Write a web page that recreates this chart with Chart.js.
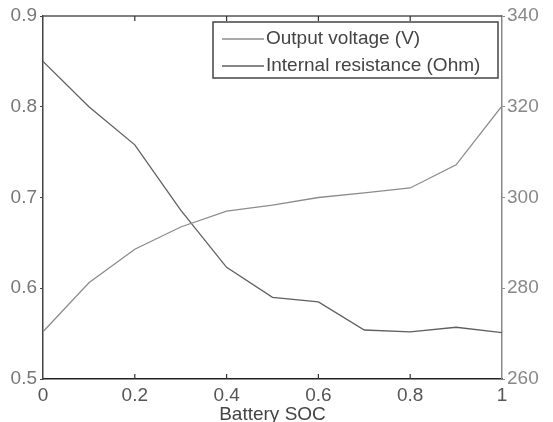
<!DOCTYPE html>
<html>
<head>
<meta charset="utf-8">
<script src="https://cdn.jsdelivr.net/npm/chart.js@4"></script>
<style>
  body { margin: 0; background: #fff; }
  #wrap { width: 553px; height: 422px; }
</style>
</head>
<body>
<div id="wrap"><canvas id="socChart" width="553" height="422"></canvas></div>
<script>
const soc = [0, 0.1, 0.2, 0.3, 0.4, 0.5, 0.6, 0.7, 0.8, 0.9, 1];
const voltage = [270.4, 281.2, 288.6, 293.5, 297.0, 298.3, 300.0, 301.0, 302.1, 307.2, 320.2];
const resistance = [0.850, 0.800, 0.758, 0.686, 0.623, 0.590, 0.585, 0.554, 0.552, 0.557, 0.551];
const seriesNames = ["Output voltage (V)", "Internal resistance (Ohm)"];
const xTicks = [0, 0.2, 0.4, 0.6, 0.8, 1];

const FONT = "'Liberation Sans', Arial, sans-serif";

// MATLAB style: inward x ticks, top border, boxed legend inside the plot
const matlabBits = {
  id: "matlabBits",
  afterDraw(chart) {
    const ctx = chart.ctx;
    const a = chart.chartArea;
    const x = chart.scales.x;
    ctx.save();
    ctx.strokeStyle = "#555";
    ctx.lineWidth = 1.5;
    ctx.beginPath();
    ctx.moveTo(a.left, a.top);
    ctx.lineTo(a.right, a.top);
    ctx.stroke();
    ctx.lineWidth = 1.2;
    ctx.strokeStyle = "#333";
    xTicks.slice(1, -1).forEach(v => {
      const px = x.getPixelForValue(v);
      ctx.beginPath();
      ctx.moveTo(px, a.bottom);
      ctx.lineTo(px, a.bottom - 5);
      ctx.moveTo(px, a.top);
      ctx.lineTo(px, a.top + 5);
      ctx.stroke();
    });

    // legend box
    const bx = 213, by = 22, bw = 285, bh = 56;
    ctx.fillStyle = "#fff";
    ctx.fillRect(bx, by, bw, bh);
    ctx.strokeStyle = "#444";
    ctx.lineWidth = 1.5;
    ctx.strokeRect(bx, by, bw, bh);
    ctx.font = "19px " + FONT;
    ctx.textBaseline = "middle";
    chart.data.datasets.forEach((ds, i) => {
      const ly = by + 17 + i * 27;
      ctx.strokeStyle = ds.borderColor;
      ctx.lineWidth = 1.3;
      ctx.beginPath();
      ctx.moveTo(bx + 9, ly);
      ctx.lineTo(bx + 51, ly);
      ctx.stroke();
      ctx.fillStyle = "#444";
      ctx.fillText(ds.label, bx + 53, ly);
    });
    ctx.restore();
  }
};

new Chart(document.getElementById("socChart"), {
  type: "line",
  data: {
    datasets: [{
      label: seriesNames[0],
      data: soc.map((s, i) => ({ x: s, y: voltage[i] })),
      yAxisID: "y1",
      borderColor: "#8c8c8c",
      borderWidth: 1.3,
      pointRadius: 0,
      tension: 0
    }, {
      label: seriesNames[1],
      data: soc.map((s, i) => ({ x: s, y: resistance[i] })),
      yAxisID: "y",
      borderColor: "#606060",
      borderWidth: 1.3,
      pointRadius: 0,
      tension: 0
    }]
  },
  options: {
    responsive: false,
    animation: false,
    layout: { padding: { top: 16, left: 0, right: 0, bottom: 0 } },
    plugins: { legend: { display: false }, tooltip: { enabled: false } },
    scales: {
      x: {
        type: "linear",
        min: 0, max: 1,
        afterBuildTicks: s => { s.ticks = xTicks.map(v => ({ value: v })); },
        afterFit: s => { s.height = 43; },
        grid: { drawOnChartArea: false, drawTicks: false },
        border: { color: "#222", width: 1.5 },
        ticks: {
          padding: 5,
          color: "#555",
          font: { family: FONT, size: 19 },
          callback: v => String(v)
        },
        title: {
          display: true,
          text: "Battery SOC",
          color: "#444",
          font: { family: FONT, size: 19 },
          padding: { top: 0, bottom: -4 }
        }
      },
      y: {
        position: "left",
        min: 0.5, max: 0.9,
        afterFit: s => { s.width = 43; },
        grid: { drawOnChartArea: false, tickLength: 3, color: "#444" },
        border: { color: "#444", width: 1.5 },
        ticks: {
          stepSize: 0.1,
          padding: 3,
          color: "#777",
          font: { family: FONT, size: 19 },
          callback: v => v.toFixed(1)
        }
      },
      y1: {
        position: "right",
        min: 260, max: 340,
        afterFit: s => { s.width = 51; },
        grid: { drawOnChartArea: false, tickLength: 3, color: "#888" },
        border: { color: "#888", width: 1.5 },
        ticks: {
          stepSize: 20,
          padding: 2,
          color: "#888",
          font: { family: FONT, size: 19 }
        }
      }
    }
  },
  plugins: [matlabBits]
});
</script>
</body>
</html>
